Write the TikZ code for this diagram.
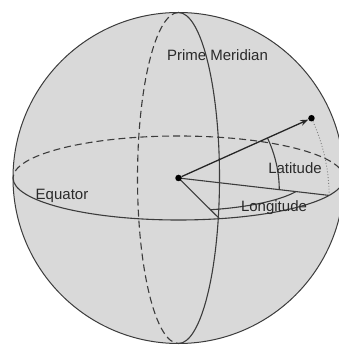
\documentclass[tikz,border=0pt]{standalone}
\usepackage{fontspec}
\setmainfont{Liberation Sans}
\usetikzlibrary{arrows.meta}
\definecolor{ink}{HTML}{3C3C3C}
\definecolor{globe}{HTML}{D9D9D9}
\definecolor{txt}{HTML}{2A2A2A}
\tikzset{
  edge/.style={draw=ink, line width=1.1pt},
  hidden/.style={edge, dash pattern=on 7pt off 4pt},
  dot/.style={circle, fill=black, inner sep=0pt, minimum size=6.5pt},
  lbl/.style={font=\fontsize{15}{17}\selectfont, text=txt, inner sep=0pt, anchor=base},
  vec/.style={draw=black!85, line width=1.3pt, -{Stealth[length=8pt,width=6pt]}}
}
\begin{document}
\begin{tikzpicture}[x=1pt,y=1pt]
\clip (0,0) rectangle (339,345);
\fill[white] (0,0) rectangle (339,345);
\coordinate (C) at (178.5,167);
% sphere
\draw[fill=globe, draw=ink, line width=1pt] (C) circle[radius=165.5];
% equator
\draw[hidden] (C) ++(165.5,0) arc[start angle=0, end angle=180, x radius=165.5, y radius=42];
\draw[edge] (C) ++(-165.5,0) arc[start angle=180, end angle=360, x radius=165.5, y radius=42];
% prime meridian
\draw[edge] (C) ++(0,-165.5) arc[start angle=-90, end angle=90, x radius=41, y radius=165.5];
\draw[hidden] (C) ++(0,165.5) arc[start angle=90, end angle=270, x radius=41, y radius=165.5];
% key points
\coordinate (P) at ({178.5+165.5*cos(28)*sin(65.5)},{167-42*cos(28)*cos(65.5)+160.1*sin(28)});
\coordinate (Q) at ({178.5+165.5*sin(65.5)},{167-42*cos(65.5)});
\coordinate (M) at ({178.5+165.5*sin(14.34)},{167-42*cos(14.34)});
% dotted meridian arc from Q to P
\draw[draw=black!50, line width=0.9pt, dotted] plot[domain=0:28, samples=30, variable=\b]
  ({178.5+165.5*cos(\b)*sin(65.5)},{167-42*cos(\b)*cos(65.5)+160.1*sin(\b)});
% lines from centre
\draw[edge] (C) -- (Q);
\draw[edge] (C) -- (M);
% latitude arc
\draw[edge] plot[domain=0:28, samples=30, variable=\b]
  ({178.5+0.669*165.5*cos(\b)*sin(65.5)},{167+0.669*(-42*cos(\b)*cos(65.5)+160.1*sin(\b))});
% longitude arc
\draw[edge] plot[domain=14.34:65.5, samples=40, variable=\l]
  ({178.5+0.78*165.5*sin(\l)},{167-0.78*42*cos(\l)});
% dots and vector
\node[dot] (Cdot) at (C) {};
\node[dot] (Pdot) at (P) {};
\draw[vec] (Cdot) -- (Pdot);
% labels
\node[lbl] (pm) at (217.5,284.7) {Prime Meridian};
\node[lbl] (eq) at (62,145) {Equator};
\node[lbl] (lat) at (295,171) {Latitude};
\node[lbl] (lon) at (274,133.3) {Longitude};
\end{tikzpicture}
\end{document}
